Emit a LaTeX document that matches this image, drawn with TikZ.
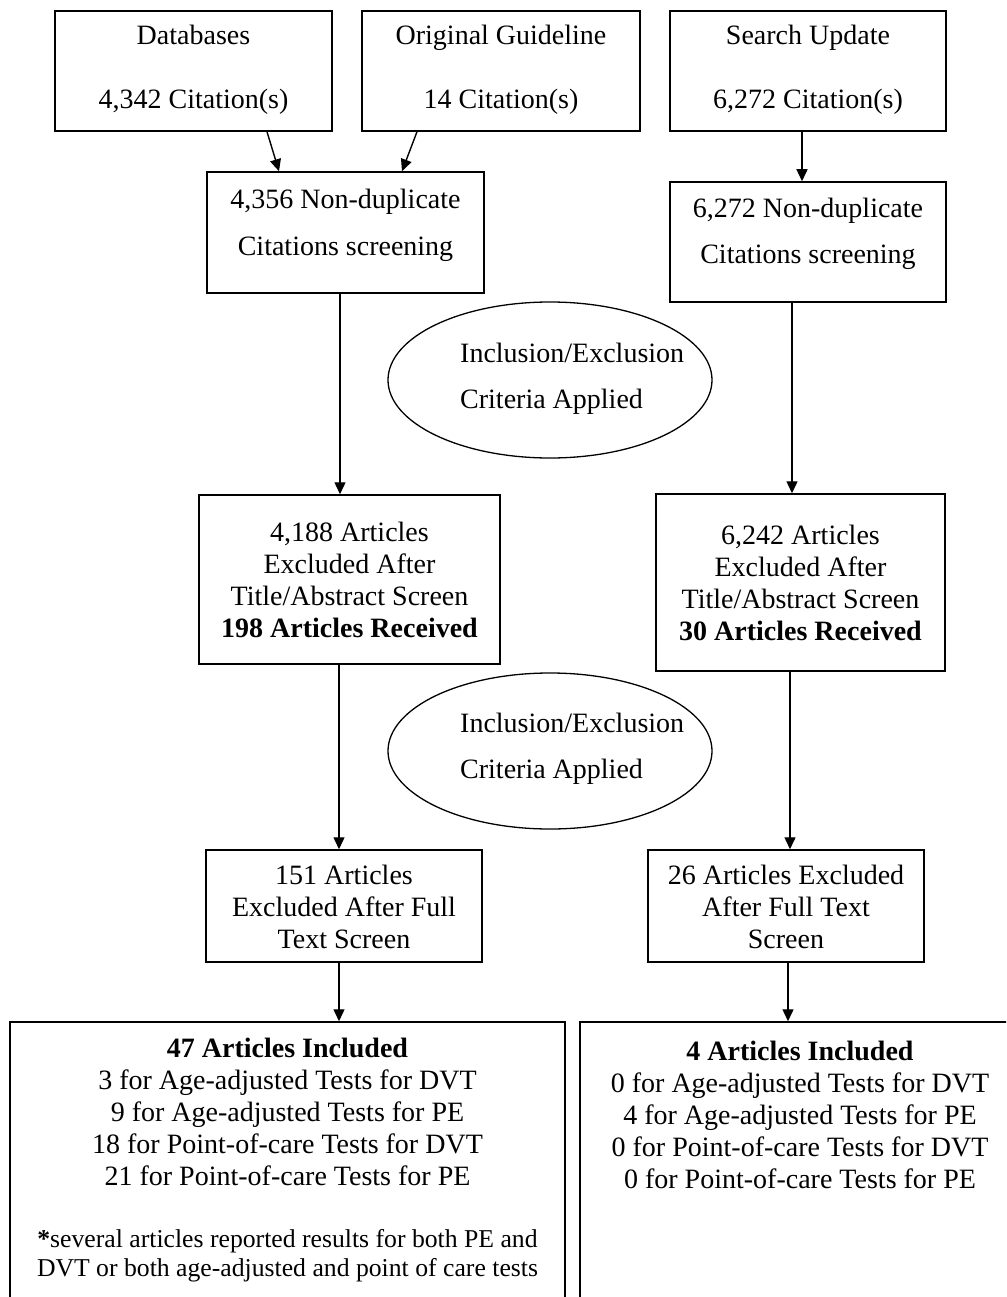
\documentclass[tikz,border=0pt]{standalone}
\usepackage{fontspec}
\setmainfont{Liberation Serif}
\usetikzlibrary{arrows.meta,shapes.geometric}
\tikzset{
  box/.style={draw=black, line width=1.5pt, rectangle, inner sep=0pt, align=center, font=\fontsize{28}{32}\selectfont},
  oval/.style={draw=black, line width=1.3pt, ellipse, inner sep=0pt, minimum width=324pt, minimum height=156pt},
  ovaltext/.style={anchor=base west, align=left, inner sep=0pt, font=\fontsize{28}{46}\selectfont},
  arr/.style={line width=1.4pt, -{Triangle[length=12pt,width=11pt]}}
}
\begin{document}
\begin{tikzpicture}[x=1pt,y=-1pt]
\useasboundingbox (0,0) rectangle (1006,1297);
\clip (0,0) rectangle (1006,1297);
\fill[white] (0,0) rectangle (1006,1297);

% top row
\node[box, minimum width=277pt, text height=98pt, text depth=22pt, font=\fontsize{28}{64}\selectfont] (db) at (193.5,71) {Databases\\4,342 Citation(s)};
\node[box, minimum width=278pt, text height=98pt, text depth=22pt, font=\fontsize{28}{64}\selectfont] (og) at (501,71) {Original Guideline\\14 Citation(s)};
\node[box, minimum width=276pt, text height=98pt, text depth=22pt, font=\fontsize{28}{64}\selectfont] (su) at (808,71) {Search Update\\6,272 Citation(s)};

% non-duplicate
\node[box, minimum width=277pt, text height=83pt, text depth=38pt, font=\fontsize{28}{47}\selectfont] (nd1) at (345.5,232.5) {4,356 Non-duplicate\\Citations screening};
\node[box, minimum width=276pt, text height=81pt, text depth=39pt, font=\fontsize{28}{46}\selectfont] (nd2) at (808,242) {6,272 Non-duplicate\\Citations screening};

% ellipses
\node[oval] (el1) at (550,380) {};
\node[ovaltext] (el1t) at (460,408) {Inclusion/Exclusion\\Criteria Applied};
\node[oval] (el2) at (550,751) {};
\node[ovaltext] (el2t) at (460,778) {Inclusion/Exclusion\\Criteria Applied};

% title/abstract
\node[box, minimum width=301pt, text height=142pt, text depth=27pt] (ex1) at (349.5,579.5) {4,188 Articles\\Excluded After\\Title/Abstract Screen\\\textbf{198 Articles Received}};
\node[box, minimum width=289pt, text height=146pt, text depth=31pt] (ex2) at (800.5,582.5) {6,242 Articles\\Excluded After\\Title/Abstract Screen\\\textbf{30 Articles Received}};

% full text
\node[box, minimum width=276pt, text height=98pt, text depth=14pt] (ft1) at (344,906) {151 Articles\\Excluded After Full\\Text Screen};
\node[box, minimum width=276pt, text height=98pt, text depth=14pt] (ft2) at (786,906) {26 Articles Excluded\\After Full Text\\Screen};

% included
\node[box, minimum width=555pt, text height=254pt, text depth=44pt] (inc1) at (287.5,1171) {\textbf{47 Articles Included}\\3 for Age-adjusted Tests for DVT\\9 for Age-adjusted Tests for PE\\18 for Point-of-care Tests for DVT\\21 for Point-of-care Tests for PE\\[30pt]{\fontsize{25.7}{29}\selectfont\textbf{*}several articles reported results for both PE and}\\[-3pt]{\fontsize{25.7}{29}\selectfont DVT or both age-adjusted and point of care tests}};
\node[box, minimum width=440pt, text height=166pt, text depth=132pt] (inc2) at (800,1171) {\textbf{4 Articles Included}\\0 for Age-adjusted Tests for DVT\\4 for Age-adjusted Tests for PE\\0 for Point-of-care Tests for DVT\\0 for Point-of-care Tests for PE};

% connectors
\draw[arr] ([xshift=73.5pt]db.south) -- ([xshift=-66.5pt]nd1.north);
\draw[arr] ([xshift=-84pt]og.south) -- ([xshift=56.5pt]nd1.north);
\draw[arr] ([xshift=-6pt]su.south) -- ([xshift=-6pt]nd2.north);
\draw[arr] ([xshift=-5.5pt]nd1.south) -- ([xshift=-9.5pt]ex1.north);
\draw[arr] ([xshift=-16pt]nd2.south) -- ([xshift=-8.5pt]ex2.north);
\draw[arr] ([xshift=-10.5pt]ex1.south) -- ([xshift=-5pt]ft1.north);
\draw[arr] ([xshift=-10.5pt]ex2.south) -- ([xshift=4pt]ft2.north);
\draw[arr] ([xshift=-5pt]ft1.south) -- ([xshift=51.5pt]inc1.north);
\draw[arr] ([xshift=2pt]ft2.south) -- ([xshift=-12pt]inc2.north);
\end{tikzpicture}
\end{document}
